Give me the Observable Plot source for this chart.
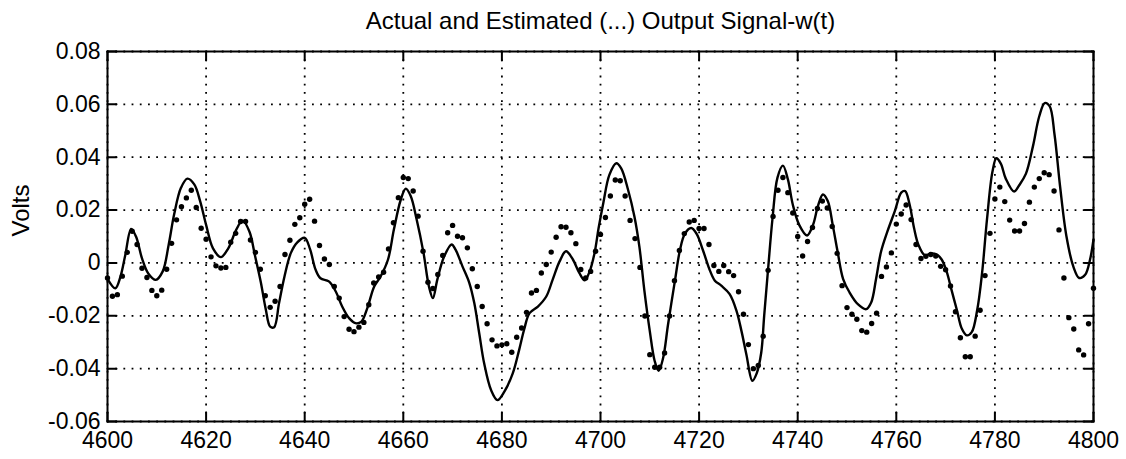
<!DOCTYPE html>
<html>
<head>
<meta charset="utf-8">
<script src="https://cdn.jsdelivr.net/npm/d3@7"></script>
<script src="https://cdn.jsdelivr.net/npm/@observablehq/plot@0.6"></script>
<style>
  html, body { margin: 0; padding: 0; background: white; }
</style>
</head>
<body>
<div id="chart"></div>
<script>
const titleText = "Actual and Estimated (...) Output Signal-w(t)";
const yLabel = "Volts";
const xTicks = [4600, 4620, 4640, 4660, 4680, 4700, 4720, 4740, 4760, 4780, 4800];
const yTicks = [-0.06, -0.04, -0.02, 0, 0.02, 0.04, 0.06, 0.08];

// Estimated signal (dots), one sample per time step starting at 4600
const estStart = 4600;
const estimated = [
  -0.0057, -0.0126, -0.012, -0.005, 0.004, 0.012, 0.007, -0.002, -0.0055, -0.0104,
  -0.0124, -0.0103, -0.0024, 0.0074, 0.0163, 0.0213, 0.0246, 0.0275, 0.021, 0.0131,
  0.009, 0.0023, -0.0011, -0.0019, -0.0017, 0.0078, 0.0112, 0.0157, 0.0157, 0.0087,
  0.004, -0.0024, -0.0124, -0.0168, -0.0145, -0.0089, 0.0032, 0.0086, 0.0146, 0.0171,
  0.0222, 0.0241, 0.0158, 0.0066, 0.0015, -0.0006, -0.0089, -0.0133, -0.0203, -0.0251,
  -0.026, -0.0243, -0.0225, -0.0158, -0.0076, -0.0053, -0.0035, 0.0053, 0.0152, 0.0247,
  0.0323, 0.0319, 0.0272, 0.0177, 0.0044, -0.0073, -0.0097, -0.0044, 0.0028, 0.0114,
  0.0142, 0.0101, 0.0095, 0.0057, -0.0022, -0.0089, -0.0165, -0.023, -0.0291, -0.0314,
  -0.031, -0.0306, -0.0338, -0.0281, -0.0246, -0.0187, -0.0114, -0.0104, -0.0038, -0.0006,
  0.0041, 0.0097, 0.0137, 0.0135, 0.0114, 0.0073, -0.0025, -0.0057, -0.0032, 0.0044,
  0.0108, 0.0172, 0.0253, 0.0314, 0.0311, 0.0253, 0.0161, 0.0092, -0.0017, -0.0201,
  -0.0347, -0.0395, -0.0395, -0.0341, -0.0201, -0.0067, 0.0047, 0.0111, 0.0155, 0.0161,
  0.013, 0.013, 0.007, -0.001, -0.0032, -0.001, -0.0033, -0.0048, -0.0109, -0.0194,
  -0.0309, -0.04, -0.0388, -0.0277, -0.0028, 0.0176, 0.0275, 0.0323, 0.0266, 0.0189,
  0.01, 0.0026, 0.0081, 0.0134, 0.0206, 0.0234, 0.0208, 0.0138, 0.0036, -0.0086,
  -0.0169, -0.0194, -0.0213, -0.0256, -0.0262, -0.0229, -0.019, -0.0051, -0.0015, 0.0038,
  0.0147, 0.0185, 0.0219, 0.0164, 0.007, 0.0017, 0.0025, 0.0032, 0.0026, -0.0013,
  -0.0026, -0.0087, -0.0185, -0.0283, -0.0355, -0.0355, -0.0277, -0.0179, -0.0048, 0.0112,
  0.0242, 0.0287, 0.0232, 0.0162, 0.0121, 0.0121, 0.0149, 0.023, 0.0287, 0.0319,
  0.0341, 0.0334, 0.0272, 0.0125, -0.0057, -0.0207, -0.025, -0.0329, -0.0348, -0.023,
  -0.0096
];

// Actual signal (solid line): time and value
const actualT = [
  4600, 4601.6, 4602.6, 4603.6, 4604.8, 4605.8, 4607.0, 4608.3, 4609.8, 4611.2,
  4612.4, 4613.5, 4614.9, 4616.2, 4617.6, 4618.8, 4620, 4621.4, 4623.0, 4624.5,
  4626.1, 4627.4, 4628.8, 4629.9, 4631.1, 4632.1, 4633.0, 4633.8, 4634.8, 4635.9,
  4637.2, 4638.5, 4640, 4641.1, 4642.2, 4643.2, 4644.9, 4646.3, 4647.6, 4649,
  4650.3, 4651.5, 4652.7, 4654.1, 4655.4, 4656.9, 4658.1, 4659.5, 4660.5, 4661.5,
  4662.7, 4664.1, 4665.2, 4666.0, 4666.9, 4668.3, 4669.8, 4670.6, 4672, 4673.4,
  4674.4, 4675.4, 4676.4, 4677.8, 4679.1, 4680.5, 4682.2, 4683.5, 4684.5, 4685.6,
  4687.3, 4689, 4690.3, 4691.7, 4693, 4694.4, 4695.7, 4696.8, 4697.8, 4698.8,
  4699.6, 4700.6, 4701.8, 4703.2, 4704.2, 4705.6, 4706.9, 4707.9, 4708.9, 4710,
  4711, 4711.8, 4712.7, 4713.7, 4715.1, 4716.1, 4717.1, 4718.4, 4719.5, 4720.8,
  4722.2, 4723.2, 4724.5, 4726.2, 4727.6, 4728.6, 4729.6, 4730.8, 4731.7, 4732.6,
  4733.2, 4734, 4734.9, 4735.9, 4737, 4738, 4739, 4740.3, 4741.9, 4743.1,
  4744.1, 4745.1, 4746.1, 4747.1, 4748.1, 4749.2, 4750.5, 4752.2, 4753.9, 4754.9,
  4755.9, 4756.9, 4758.2, 4759.7, 4761, 4761.8, 4762.7, 4763.6, 4764.5, 4765.8,
  4767.1, 4768.2, 4769.2, 4770.2, 4771.2, 4772.3, 4773.3, 4774.3, 4775.3, 4776.4,
  4777.4, 4778.4, 4779.5, 4780.3, 4781.2, 4782.2, 4783.9, 4784.9, 4786.3, 4787.7,
  4789, 4790.1, 4791.1, 4792.1, 4793.2, 4794.5, 4795.9, 4797.1, 4798.3, 4799.3,
  4800
];
const actualV = [
  -0.006, -0.0096, -0.0054, 0.0029, 0.0129, 0.0099, 0.0017, -0.0041, -0.0064, -0.0032,
  0.0068, 0.0182, 0.0284, 0.0319, 0.0297, 0.0233, 0.0144, 0.0055, 0.0022, 0.0055,
  0.0125, 0.016, 0.0118, 0.0029, -0.0073, -0.0175, -0.0241, -0.0243, -0.0152, -0.0051,
  0.0038, 0.0078, 0.0095, 0.0051, -0.0025, -0.0058, -0.007, -0.0108, -0.0165, -0.0209,
  -0.0228, -0.0222, -0.0171, -0.0089, -0.0051, 0.0013, 0.0127, 0.024, 0.0281, 0.0253,
  0.0165, 0.0038, -0.0089, -0.0133, -0.0063, 0.0025, 0.007, 0.005, -0.0013, -0.0076,
  -0.0152, -0.0266, -0.038, -0.0481, -0.0519, -0.0487, -0.0418, -0.0329, -0.0253, -0.019,
  -0.0165, -0.0127, -0.0063, 0.0006, 0.0044, 0.0013, -0.0038, -0.0066, -0.0032, 0.0038,
  0.013, 0.023, 0.0333, 0.0377, 0.0358, 0.0276, 0.0174, 0.006, -0.0105, -0.0258,
  -0.0372, -0.0408, -0.036, -0.0233, -0.0067, 0.0047, 0.011, 0.0132, 0.011, 0.0047,
  -0.0029, -0.0067, -0.0086, -0.0118, -0.0182, -0.0258, -0.0347, -0.0446, -0.0417, -0.034,
  -0.02, -0.0022, 0.017, 0.0323, 0.0368, 0.0317, 0.0221, 0.0144, 0.0104, 0.0144,
  0.0215, 0.0259, 0.0234, 0.0144, 0.0042, -0.006, -0.0111, -0.0156, -0.0175, -0.015,
  -0.006, 0.0042, 0.0119, 0.0196, 0.0266, 0.0272, 0.0221, 0.0132, 0.0068, 0.0029,
  0.0036, 0.0032, 0.0013, -0.0032, -0.0102, -0.0179, -0.0249, -0.0274, -0.0262, -0.0179,
  -0.0038, 0.0166, 0.0345, 0.0396, 0.0376, 0.0319, 0.027, 0.0293, 0.0338, 0.044,
  0.0555, 0.0605, 0.0593, 0.0485, 0.0293, 0.0102, -0.0013, -0.0057, -0.0045, 0.0013,
  0.0089
];

const estData = estimated.map((v, i) => ({t: estStart + i, v}));
const actData = actualT.map((t, i) => ({t, v: actualV[i]}));

const font = "'Liberation Sans', Arial, Helvetica, sans-serif";
const gridStyle = {stroke: "black", strokeOpacity: 1, strokeWidth: 1.8, strokeDasharray: "1.8,6.4"};
const yFmt = d => (d === 0 ? "0" : d.toFixed(2));

// inward tick shape for vector marks
const tickShape = {draw(context, l) { context.moveTo(0, 0); context.lineTo(0, -l); }};
const tickOpts = {length: 9, anchor: "start", shape: tickShape, stroke: "black", strokeWidth: 2};

const chart = Plot.plot({
  width: 1126,
  height: 459,
  marginLeft: 107,
  marginRight: 33,
  marginTop: 51,
  marginBottom: 38,
  style: {fontFamily: font, fontSize: "23px", background: "white", color: "black"},
  x: {domain: [4600, 4800]},
  y: {domain: [-0.06, 0.08]},
  marks: [
    Plot.gridX(xTicks, gridStyle),
    Plot.gridY(yTicks, gridStyle),
    Plot.line(actData, {x: "t", y: "v", stroke: "black", strokeWidth: 2.4, curve: "catmull-rom"}),
    Plot.dot(estData, {x: "t", y: "v", r: 2.7, fill: "black", stroke: null}),
    Plot.frame({stroke: "black", strokeWidth: 2}),
    Plot.vector(xTicks, {x: d => d, frameAnchor: "bottom", rotate: 0, ...tickOpts}),
    Plot.vector(xTicks, {x: d => d, frameAnchor: "top", rotate: 180, ...tickOpts}),
    Plot.vector(yTicks, {y: d => d, frameAnchor: "left", rotate: 90, ...tickOpts}),
    Plot.vector(yTicks, {y: d => d, frameAnchor: "right", rotate: -90, ...tickOpts}),
    Plot.axisX(xTicks, {anchor: "bottom", tickSize: 0, tickPadding: 10, label: null, fontSize: 23, tickFormat: d => String(d)}),
    Plot.axisY(yTicks, {anchor: "left", tickSize: 0, tickPadding: 7, label: null, fontSize: 23, tickFormat: yFmt}),
    Plot.text([titleText], {frameAnchor: "top", dy: -30, text: d => d, fontSize: 24, lineAnchor: "middle"}),
    Plot.text([yLabel], {frameAnchor: "left", dx: -86, rotate: -90, text: d => d, fontSize: 24, lineAnchor: "middle"})
  ]
});
document.getElementById("chart").appendChild(chart);
</script>
</body>
</html>
